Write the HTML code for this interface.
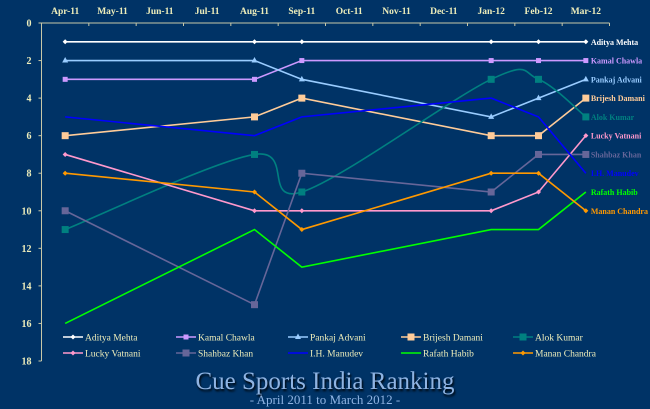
<!DOCTYPE html>
<html><head><meta charset="utf-8"><style>
html,body{margin:0;padding:0;background:#003366;}
svg{display:block;font-family:"Liberation Serif",serif;}
</style></head><body>
<svg id="chart" width="650" height="409" viewBox="0 0 650 409" xmlns="http://www.w3.org/2000/svg">
<rect x="0" y="0" width="650" height="409" fill="#003366"/>
<g id="axes"></g><g id="series"></g><g id="legend"></g>
<text x="325" y="389" text-anchor="middle" font-size="25" fill="#8fb4e3" style="filter:drop-shadow(1px 2px 1px #000)">Cue Sports India Ranking</text>
<text x="325" y="404" text-anchor="middle" font-size="13" fill="#8fb4e3">- April 2011 to March 2012 -</text>
</svg>
<script>
const months=["Apr-11","May-11","Jun-11","Jul-11","Aug-11","Sep-11","Oct-11","Nov-11","Dec-11","Jan-12","Feb-12","Mar-12"];
const yTicks=[0,2,4,6,8,10,12,14,16,18];
const names=["Aditya Mehta","Kamal Chawla","Pankaj Advani","Brijesh Damani","Alok Kumar","Lucky Vatnani","Shahbaz Khan","I.H. Manudev","Rafath Habib","Manan Chandra"];
const N=null;
const aditya=[1,N,N,N,1,1,N,N,N,1,1,1];
const kamal=[3,N,N,N,3,2,N,N,N,2,2,2];
const pankaj=[2,N,N,N,2,3,N,N,N,5,4,3];
const brijesh=[6,N,N,N,5,4,N,N,N,6,6,4];
const alok=[11,N,N,N,7,9,N,N,N,3,3,5];
const lucky=[7,N,N,N,10,10,N,N,N,10,9,6];
const shahbaz=[10,N,N,N,15,8,N,N,N,9,7,7];
const manudev=[5,N,N,N,6,5,N,N,N,4,5,8];
const rafath=[16,N,N,N,11,13,N,N,N,11,11,9];
const manan=[8,N,N,N,9,11,N,N,N,8,8,10];
const seriesData=[aditya,kamal,pankaj,brijesh,alok,lucky,shahbaz,manudev,rafath,manan];
const colors=["#ffffff","#cc99ff","#99ccff","#ffcc99","#008080","#ff99cc","#666699","#0000ff","#00ff00","#ff9900"];
const markers=["diamond","square","triangle","bigsquare","bigsquare","diamond","bigsquare","none","none","diamond"];
const smooth=[false,false,false,false,true,false,false,false,false,false];

const NS="http://www.w3.org/2000/svg";
const L=41.5,R=609.5,T=23,B=361,YMAX=18;
const step=(R-L)/months.length;
const x=i=>L+step*(i+0.5);
const y=v=>T+(B-T)*v/YMAX;
function mk(tag,attrs,parent){const e=document.createElementNS(NS,tag);for(const k in attrs)e.setAttribute(k,attrs[k]);parent.appendChild(e);return e;}
const axes=document.getElementById('axes');
let ax=mk('line',{x1:L,y1:T,x2:R,y2:T,stroke:'#c8c8a8','stroke-width':1},axes);


let ay=mk('line',{x1:L,y1:T,x2:L,y2:B,stroke:'#c8c8a8','stroke-width':1},axes);


for(let i=0;i<=months.length;i++){mk('line',{x1:L+step*i,y1:T,x2:L+step*i,y2:T+3,stroke:'#c8c8a8'},axes);}
months.forEach((m,i)=>{const t=mk('text',{x:x(i),y:14,'text-anchor':'middle','font-size':9.5,'font-weight':'bold',fill:'#eeeebb'},axes);t.textContent=m;

});
yTicks.forEach(v=>{mk('line',{x1:L-3,y1:y(v),x2:L,y2:y(v),stroke:'#c8c8a8'},axes);
const t=mk('text',{x:L-10,y:y(v)+3.5,'text-anchor':'end','font-size':10,'font-weight':'bold',fill:'#eeeebb'},axes);t.textContent=v;

});

function marker(type,cx,cy,col,g){
 if(type==='diamond')return mk('path',{d:`M${cx} ${cy-2.5}L${cx+2.5} ${cy}L${cx} ${cy+2.5}L${cx-2.5} ${cy}Z`,fill:col},g);
 if(type==='square')return mk('rect',{x:cx-2.5,y:cy-2.5,width:5,height:5,fill:col},g);
 if(type==='bigsquare')return mk('rect',{x:cx-3.5,y:cy-3.5,width:7,height:7,fill:col},g);
 if(type==='triangle')return mk('path',{d:`M${cx} ${cy-3.5}L${cx+3} ${cy+2}L${cx-3} ${cy+2}Z`,fill:col},g);
}
const sg=document.getElementById('series');
seriesData.forEach((arr,si)=>{
 const g=mk('g',{},sg);
 
 
 const pts=[];arr.forEach((v,i)=>{if(v!==null)pts.push([x(i),y(v)]);});
 let d='M'+pts[0][0]+' '+pts[0][1];
 if(smooth[si]){
  for(let i=0;i<pts.length-1;i++){const p0=pts[Math.max(0,i-1)],p1=pts[i],p2=pts[i+1],p3=pts[Math.min(pts.length-1,i+2)];
   const c1=[p1[0]+(p2[0]-p0[0])/6,p1[1]+(p2[1]-p0[1])/6],c2=[p2[0]-(p3[0]-p1[0])/6,p2[1]-(p3[1]-p1[1])/6];
   d+=`C${c1[0]} ${c1[1]} ${c2[0]} ${c2[1]} ${p2[0]} ${p2[1]}`;}
 } else pts.slice(1).forEach(p=>d+=`L${p[0]} ${p[1]}`);
 const ln=mk('path',{d:d,fill:'none',stroke:colors[si],'stroke-width':1.6},g);
 
 
 pts.forEach(p=>{const mm=marker(markers[si],p[0],p[1],colors[si],g);if(mm){
  
  }});
 const last=pts[pts.length-1];
 const lb=mk('text',{x:last[0]+5,y:last[1]+3,'font-size':8,'font-weight':'bold',fill:colors[si]},g);
 lb.textContent=names[si];
 
 
});
const lg=document.getElementById('legend');
const colX=[63,176,288,401,513],rowY=[337,353];
names.forEach((n,i)=>{const cx=colX[i%5],cy=rowY[Math.floor(i/5)];
 const g=mk('g',{},lg);
 
 
 mk('line',{x1:cx,y1:cy,x2:cx+20,y2:cy,stroke:colors[i],'stroke-width':1.6},g);
 marker(markers[i]==='bigsquare'?'bigsquare':markers[i],cx+10,cy,colors[i],g);
 const t=mk('text',{x:cx+22,y:cy+3.5,'font-size':9.5,fill:'#eeeebb'},g);t.textContent=n;
});
</script>
</body></html>
